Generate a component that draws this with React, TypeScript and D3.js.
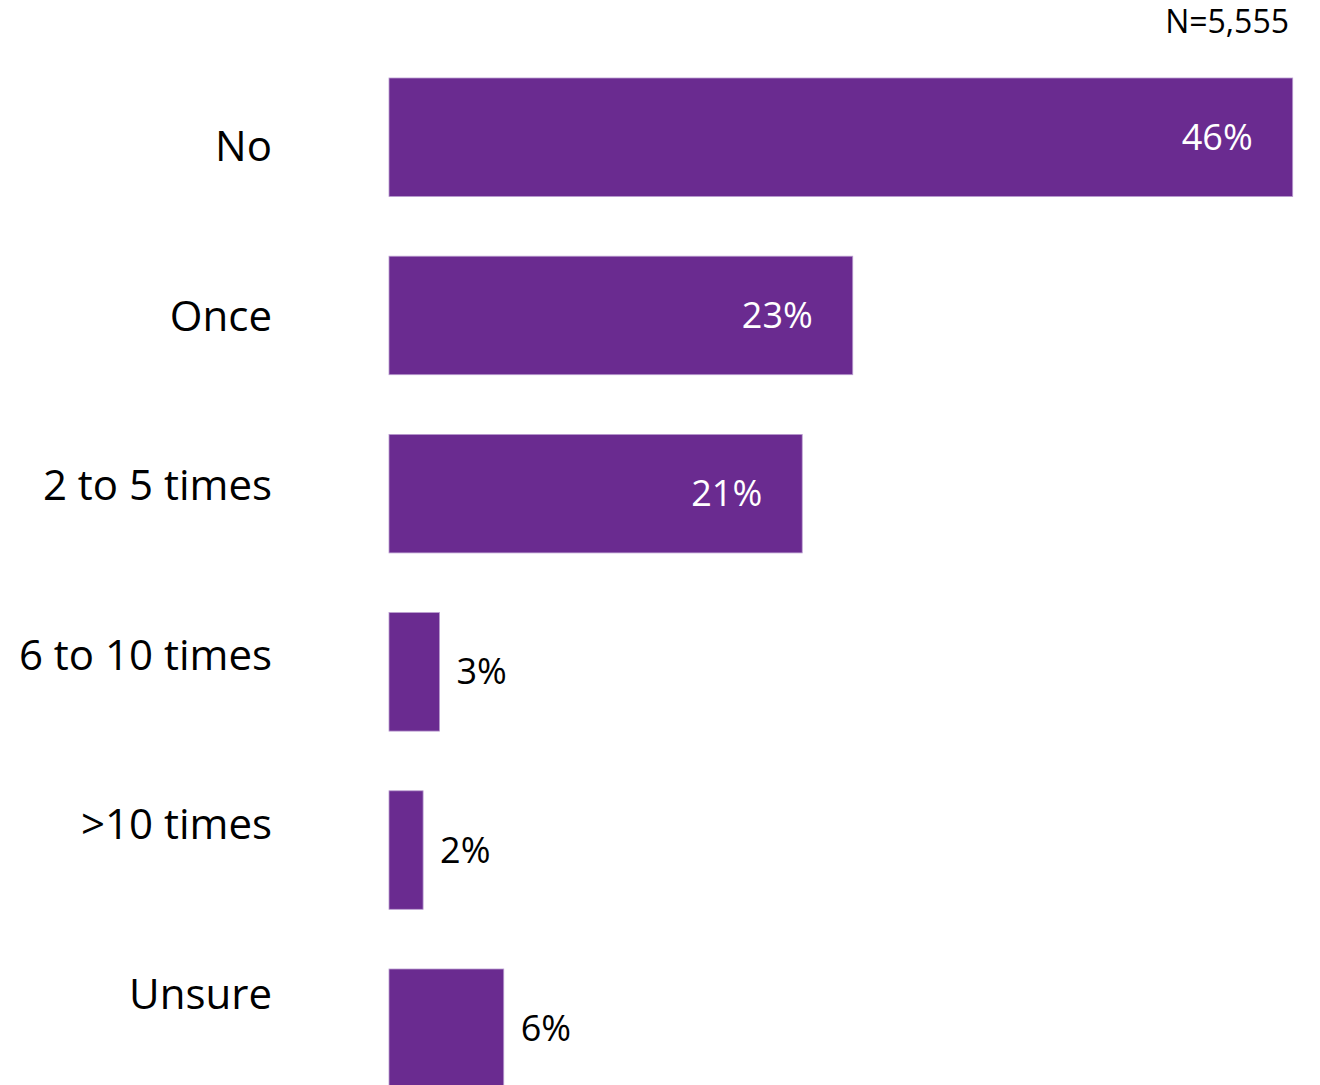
import React from "react";
import * as d3 from "d3";

const categories = ["No", "Once", "2 to 5 times", "6 to 10 times", ">10 times", "Unsure"];
const values = [45.6, 23.4, 20.85, 2.55, 1.72, 5.79];
const sampleNote = "N=5,555";

const W = 1320;
const H = 1085;
const FONT = "'Open Sans', 'DejaVu Sans', sans-serif";
const PURPLE = "#6A2B90";

export default function App() {
  const x = d3.scaleLinear().domain([0, d3.max(values)!]).range([389, 1292.7]);
  const step = 178.2;
  const p = 0.335;
  const y0 = 78 - (step * p) / 2;
  const y = d3
    .scaleBand<string>()
    .domain(categories)
    .range([y0, y0 + step * categories.length])
    .paddingInner(p)
    .paddingOuter(p / 2);
  const labelY = d3.scalePoint<string>().domain(categories).range([161, 161 + 5 * 169.6]);
  const fmt = (v: number) => `${Math.round(v)}%`;

  return (
    <svg
      width={W}
      height={H}
      style={{ position: "absolute", left: 0, top: 0, display: "block", background: "#fff" }}
    >
      <text x={1289} y={33} textAnchor="end" fontFamily={FONT} fontSize={32} fill="#000">
        {sampleNote}
      </text>
      {categories.map((c, i) => {
        const v = values[i];
        const by = y(c)!;
        const bh = y.bandwidth();
        const xe = x(v);
        const inside = v > 10;
        return (
          <g key={c}>
            <rect
              x={x(0)}
              y={by}
              width={xe - x(0)}
              height={bh}
              fill={PURPLE}
              stroke="#b99ccf"
              strokeWidth={0.8}
            />
            <text
              x={272}
              y={labelY(c)}
              textAnchor="end"
              fontFamily={FONT}
              fontSize={42}
              fill="#000"
            >
              {c}
            </text>
            <text
              x={inside ? xe - 40 : xe + 17}
              y={by + bh / 2 + 12.5}
              textAnchor={inside ? "end" : "start"}
              fontFamily={FONT}
              fontSize={36}
              fill={inside ? "#fff" : "#000"}
            >
              {fmt(v)}
            </text>
          </g>
        );
      })}
    </svg>
  );
}
